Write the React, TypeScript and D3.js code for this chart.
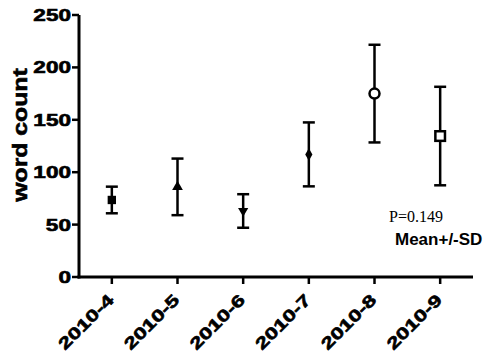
import React from "react";
import * as d3 from "d3";

const WIDTH = 486;
const HEIGHT = 360;

// values
const months = ["2010-4", "2010-5", "2010-6", "2010-7", "2010-8", "2010-9"];
const means = [73.5, 86, 63, 117, 175, 134.5];
const sds = [12.7, 27, 16, 30.5, 46.6, 47];
const yTicks = [0, 50, 100, 150, 200, 250];
const markers = ["square", "triangle", "triangleDown", "diamond", "circleOpen", "squareOpen"];

const margin = { top: 15, right: 13, bottom: 83, left: 79 };

const TICK_FONT = "'Liberation Sans', Arial, sans-serif";

function Marker({ kind, x, y }: { kind: string; x: number; y: number }) {
  if (kind === "circleOpen") {
    return <circle cx={x} cy={y} r={5} fill="white" stroke="#000" strokeWidth={2.5} />;
  }
  if (kind === "squareOpen") {
    return <rect x={x - 4.8} y={y - 4.8} width={9.6} height={9.6} fill="white" stroke="#000" strokeWidth={2.5} />;
  }
  let type: d3.SymbolType = d3.symbolSquare;
  let size = 70;
  let rot = 0;
  if (kind === "triangle") {
    type = d3.symbolTriangle;
    size = 50;
  } else if (kind === "triangleDown") {
    type = d3.symbolTriangle;
    size = 45;
    rot = 180;
  } else if (kind === "diamond") {
    type = d3.symbolDiamond;
    size = 45;
  }
  const path = d3.symbol().type(type).size(size)();
  return <path d={path || ""} transform={`translate(${x},${y}) rotate(${rot})`} fill="#000" />;
}

export default function App() {
  const x0 = margin.left;
  const x1 = WIDTH - margin.right;
  const yBottom = HEIGHT - margin.bottom;

  const x = d3.scalePoint<string>().domain(months).range([x0, x1]).padding(0.5);
  const y = d3.scaleLinear().domain([0, 250]).range([yBottom, margin.top]);

  // heavy tick text
  const heavy = { stroke: "#000", strokeWidth: 0.6 };

  return (
    <svg
      width={WIDTH}
      height={HEIGHT}
      style={{ position: "absolute", left: 0, top: 0, background: "white" }}
    >
      {/* y axis */}
      <line x1={x0} x2={x0} y1={y(250)} y2={yBottom + 1.5} stroke="#000" strokeWidth={3} />
      {yTicks.map((t) => (
        <g key={t}>
          <line x1={x0 - 7} x2={x0} y1={y(t)} y2={y(t)} stroke="#000" strokeWidth={2.5} />
          <g transform={`translate(${x0 - 8},${y(t)}) scale(1.37,1)`}>
            <text
              textAnchor="end"
              dy="0.36em"
              fontFamily={TICK_FONT}
              fontWeight="bold"
              fontSize={16.5}
              {...heavy}
            >
              {t}
            </text>
          </g>
        </g>
      ))}

      {/* x axis */}
      <line x1={x0 - 1.5} x2={x1} y1={yBottom} y2={yBottom} stroke="#000" strokeWidth={3} />
      {months.map((m) => (
        <g key={m}>
          <line x1={x(m)} x2={x(m)} y1={yBottom} y2={yBottom + 7} stroke="#000" strokeWidth={2.5} />
          <g transform={`translate(${(x(m) as number) + 3},${yBottom + 24}) rotate(-45) scale(1.37,1)`}>
            <text textAnchor="end" fontFamily={TICK_FONT} fontWeight="bold" fontSize={16.5} {...heavy}>
              {m}
            </text>
          </g>
        </g>
      ))}

      {/* y axis title */}
      <text
        transform={`translate(27,135) rotate(-90) scale(1.18,1)`}
        textAnchor="middle"
        fontFamily={TICK_FONT}
        fontWeight="bold"
        fontSize={21}
        {...heavy}
      >
        word count
      </text>

      {/* mean +/- sd */}
      {months.map((m, i) => {
        const cx = x(m) as number;
        const top = y(means[i] + sds[i]);
        const bot = y(means[i] - sds[i]);
        return (
          <g key={m}>
            <line x1={cx} x2={cx} y1={top} y2={bot} stroke="#000" strokeWidth={2.5} />
            <line x1={cx - 6} x2={cx + 6} y1={top} y2={top} stroke="#000" strokeWidth={2.5} />
            <line x1={cx - 6} x2={cx + 6} y1={bot} y2={bot} stroke="#000" strokeWidth={2.5} />
            <Marker kind={markers[i]} x={cx} y={y(means[i])} />
          </g>
        );
      })}

      <text x={389} y={222} fontFamily="'Liberation Serif', 'Times New Roman', serif" fontSize={16}>
        P=0.149
      </text>
      <text x={395} y={245} fontFamily={TICK_FONT} fontWeight="bold" fontSize={17}>
        Mean+/-SD
      </text>
    </svg>
  );
}
